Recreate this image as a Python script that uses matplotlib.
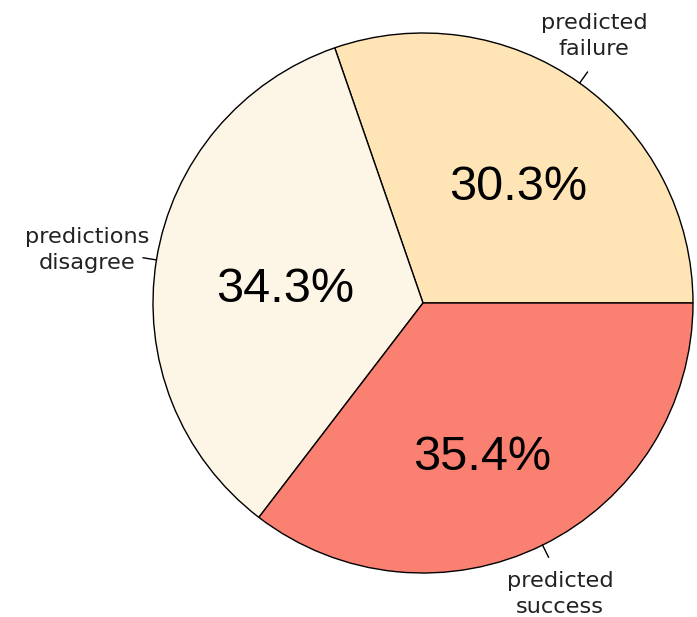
import numpy as np
import matplotlib.pyplot as plt

# data
labels = ['predicted\nfailure', 'predictions\ndisagree', 'predicted\nsuccess']
shares = [30.3, 34.3, 35.4]
colors = ['#FFE4B5', '#FDF5E6', '#FA8072']

W, H = 697, 617
cx, cy, r = 423, H - 303, 270

fig = plt.figure(figsize=(W / 100, H / 100), dpi=100)
ax = fig.add_axes([0, 0, 1, 1])

wedges, _ = ax.pie(shares, colors=colors, startangle=0, counterclock=True,
                   center=(cx, cy), radius=r, frame=True,
                   wedgeprops=dict(edgecolor='black', linewidth=1.0))
ax.set_xlim(0, W)
ax.set_ylim(0, H)
ax.set_aspect('equal')
ax.axis('off')

# percent labels (pixel positions in the picture, y from top)
pct_pos = [(518, 188), (285, 290), (482, 458)]
for s, (px, py) in zip(shares, pct_pos):
    ax.text(px, H - py, f'{s}%', ha='center', va='center',
            fontsize=35, family='Liberation Sans', color='black')

# small tick lines from the rim, then the names
for w in wedges:
    a = np.deg2rad((w.theta1 + w.theta2) / 2)
    ax.plot([cx + r * np.cos(a), cx + 1.05 * r * np.cos(a)],
            [cy + r * np.sin(a), cy + 1.05 * r * np.sin(a)],
            color='black', lw=1)

name_pos = [(594, 36, 'center'), (149, 250, 'right'), (560, 594, 'center')]
for lab, (px, py, ha) in zip(labels, name_pos):
    ax.text(px, H - py, lab, ha=ha, va='center', multialignment='center',
            fontsize=16.2, family='DejaVu Sans', color='#222222',
            linespacing=1.38)

plt.savefig('out.png', dpi=100, facecolor='white')
